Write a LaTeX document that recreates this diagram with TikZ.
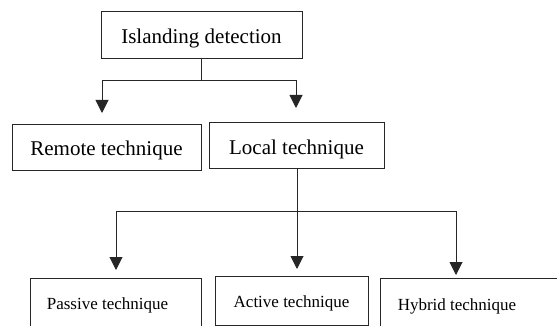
\documentclass[tikz,border=0pt]{standalone}
\usepackage{fontspec}
\setmainfont{Liberation Serif}
\usetikzlibrary{arrows.meta}
\begin{document}
\begin{tikzpicture}[x=1pt,y=-1pt,
  box/.style={draw=black!85, line width=0.9pt, inner sep=0pt, anchor=center, text depth=0pt},
  big/.style={font=\fontsize{21}{25}\selectfont, text height=18pt},
  small/.style={font=\fontsize{17}{20}\selectfont, text height=13pt},
  conn/.style={draw=black!85, line width=1pt, line join=miter},
  arr/.style={conn, -{Triangle[width=13pt,length=13pt]}}]
\useasboundingbox (0,0) rectangle (557,326);
\node[box,big,minimum width=201pt,minimum height=47pt] (top) at (201.5,34.5) {Islanding detection};
\node[box,big,minimum width=189pt,minimum height=46pt] (remote) at (106.5,147) {Remote technique};
\node[box,big,minimum width=175pt,minimum height=46pt] (local) at (296.5,145) {Local technique};
\node[box,small,minimum width=171pt,minimum height=50pt] (passive) at (115.5,303) {Passive technique\hspace*{16pt}};
\node[box,small,minimum width=153pt,minimum height=49pt] (active) at (291.5,300.5) {Active technique};
\node[box,small,minimum width=182pt,minimum height=52pt] (hybrid) at (471,304) {Hybrid technique\hspace*{28pt}};
% first level
\coordinate (j1) at (201.5,81);
\coordinate (jl) at (102,81);
\coordinate (jr) at (296,81);
\coordinate (tr) at (102,113);
\coordinate (tl) at (296,108);
\draw[conn] (top.south) -- (j1);
\draw[arr] (j1) -- (jl) -- (tr);
\draw[arr] (j1) -- (jr) -- (tl);
% second level
\coordinate (k1) at (297,211);
\coordinate (kl) at (116,211);
\coordinate (kr) at (456,211);
\coordinate (tp) at (116,270);
\coordinate (ta) at (297,269);
\coordinate (th) at (456,275);
\draw[arr] (local.south -| k1) -- (ta);
\draw[arr] (k1) -- (kl) -- (tp);
\draw[arr] (k1) -- (kr) -- (th);
\end{tikzpicture}
\end{document}
